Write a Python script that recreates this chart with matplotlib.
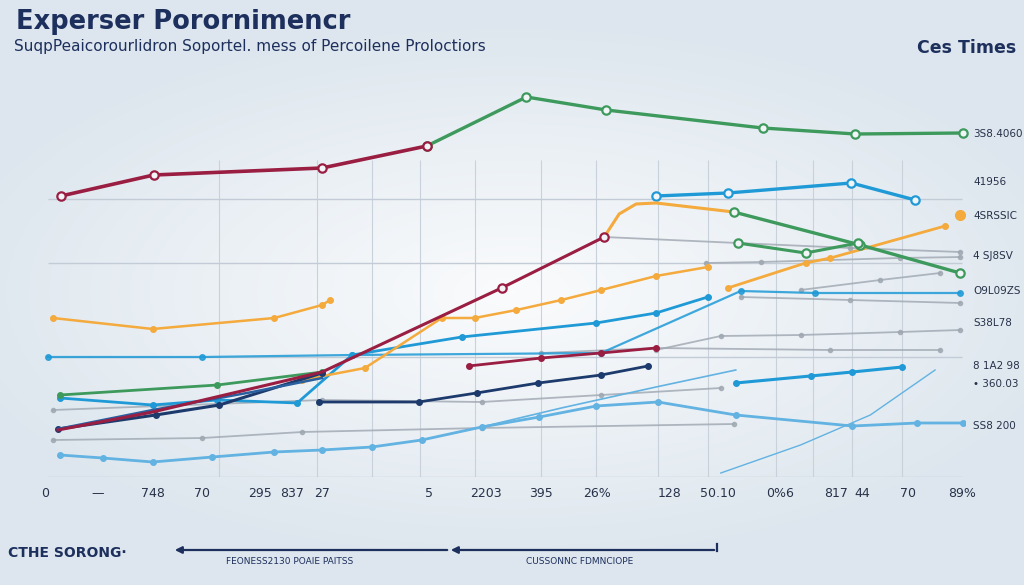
import numpy as np
import matplotlib.pyplot as plt

# series: x position, y position (axis runs top-down)
crimson_top_x = [58, 151, 320, 425]
crimson_top_y = [196, 175, 168, 146]
green_top_x = [425, 525, 605, 762, 855, 963]
green_top_y = [146, 97, 110, 128, 134, 133]

crimson_mid_x = [55, 150, 320, 500, 603]
crimson_mid_y = [430, 412, 372, 288, 237]
crimson_low_x = [467, 540, 600, 655]
crimson_low_y = [366, 358, 353, 348]

green_low_x = [57, 215, 320]
green_low_y = [395, 385, 372]
green_right_x = [733, 860, 960]
green_right_y = [212, 245, 273]
green_short_x = [737, 805, 858]
green_short_y = [243, 253, 243]

orange_a_x = [50, 150, 272, 320, 328]
orange_a_y = [318, 329, 318, 305, 300]
orange_b_x = [300, 363, 440, 473, 515, 560, 600, 655, 707]
orange_b_y = [380, 368, 318, 318, 310, 300, 290, 276, 267]
orange_c_x = [603, 618, 635, 655, 733]
orange_c_y = [237, 214, 204, 203, 212]
orange_d_x = [727, 805, 830, 945]
orange_d_y = [288, 263, 258, 226]

blue_top_x = [655, 727, 851, 915]
blue_top_y = [196, 193, 183, 200]
blue_mid_x = [57, 150, 215, 295, 350, 460, 595, 655, 707]
blue_mid_y = [398, 405, 400, 403, 355, 337, 323, 313, 297]
blue_flat_x = [45, 200, 350, 600, 740, 815, 960]
blue_flat_y = [357, 357, 355, 353, 291, 293, 293]
blue_right_x = [735, 810, 852, 902]
blue_right_y = [383, 376, 372, 367]

navy_a_x = [55, 153, 217, 320]
navy_a_y = [429, 415, 405, 373]
navy_b_x = [55, 150, 250, 320]
navy_b_y = [429, 410, 392, 378]
navy_c_x = [317, 417, 475, 537, 600, 647]
navy_c_y = [402, 402, 393, 383, 375, 366]

light_x = [57, 100, 150, 210, 272, 320, 370, 420, 480, 538, 595, 657, 735, 852, 917, 963]
light_y = [455, 458, 462, 457, 452, 450, 447, 440, 427, 417, 406, 402, 415, 426, 423, 423]
light_b_x = [480, 560, 655, 735]
light_b_y = [427, 408, 387, 370]
thin_x = [720, 800, 870, 935]
thin_y = [473, 445, 415, 370]

gray_lines = [
    ([603, 737, 850, 960], [237, 243, 248, 252]),
    ([705, 760, 900, 960], [263, 262, 258, 257]),
    ([740, 850, 960], [297, 300, 303]),
    ([50, 320, 480, 600, 720], [410, 400, 402, 395, 388]),
    ([50, 200, 300, 480, 733], [440, 438, 432, 428, 424]),
    ([655, 720, 800, 900, 960], [350, 336, 335, 332, 330]),
    ([540, 655, 830, 940], [353, 348, 350, 350]),
    ([800, 880, 940], [290, 280, 273]),
]

bottom_ticks = [42, 95, 150, 200, 258, 290, 320, 427, 484, 540, 596, 669, 717, 779, 836, 862, 908, 962]
bottom_labels = ['0', '—', '748', '70', '295', '837', '27', '5', '2203', '395', '26%',
                 '128', '50.10', '0%6', '817', '44', '70', '89%']
right_ticks = [133, 181, 215, 255, 290, 322, 365, 383, 425]
right_labels = ['3S8.4060', '41956', '4SRSSIC', '4 SJ8SV', 'O9L09ZS', 'S38L78',
                '8 1A2 98', '• 360.03', 'SS8 200']
vgrid = [217, 315, 370, 418, 473, 540, 595, 657, 707, 775, 813, 852, 902]
hgrid = [199, 263, 357, 477]

crimson = '#9a1d42'
green = '#3d9a5c'
orange = '#f4aa3c'
blue = '#1f9ad6'
navy = '#1d3a6c'
light = '#62b2e2'
gray = '#9ea6b0'
ink = '#1d2f5c'

fig = plt.figure(figsize=(10.24, 5.85), dpi=100)

# soft bluish background, lighter in the middle
bg = fig.add_axes([0, 0, 1, 1])
gx, gy = np.meshgrid(np.linspace(-1, 1, 300), np.linspace(-1, 1, 200))
r = np.clip(np.sqrt((gx * 0.9) ** 2 + (gy * 1.1) ** 2), 0, 1)
c0 = np.array([0.98, 0.985, 0.99])
c1 = np.array([0.87, 0.905, 0.935])
img = c0[None, None, :] * (1 - r[..., None]) + c1[None, None, :] * r[..., None]
bg.imshow(img, aspect='auto', extent=[0, 1, 0, 1])
bg.axis('off')

W, H = 1024, 585
x0, x1, y0, y1 = 45, 965, 90, 477
ax = fig.add_axes([x0 / W, 1 - y1 / H, (x1 - x0) / W, (y1 - y0) / H])
ax.patch.set_alpha(0)
ax.set_xlim(x0, x1)
ax.set_ylim(y1, y0)
for s in ax.spines.values():
    s.set_visible(False)

ax.vlines(vgrid, 160, 477, color='#c9d2db', lw=0.8, zorder=0)
ax.hlines(hgrid, 45, 962, color='#c3ccd6', lw=1.0, zorder=0)

ring = dict(marker='o', mfc='#f2f5f8', mew=1.6, ms=6)
dot = dict(marker='o', ms=4)

for gxs, gys in gray_lines:
    ax.plot(gxs, gys, color=gray, lw=1.3, alpha=0.8, marker='o', ms=3, zorder=1)

ax.plot(light_x, light_y, color=light, lw=2, zorder=2, **dot)
ax.plot(light_b_x, light_b_y, color=light, lw=1.2, zorder=2)
ax.plot(thin_x, thin_y, color=light, lw=1, zorder=2)
ax.plot(blue_flat_x, blue_flat_y, color=blue, lw=1.6, alpha=0.85, zorder=2, **dot)
ax.plot(blue_mid_x, blue_mid_y, color=blue, lw=2, zorder=3, **dot)
ax.plot(blue_right_x, blue_right_y, color=blue, lw=2.2, zorder=3, **dot)
ax.plot(blue_top_x, blue_top_y, color=blue, lw=2.4, zorder=3, **ring)

ax.plot(orange_a_x, orange_a_y, color=orange, lw=1.8, zorder=3, **dot)
ax.plot(orange_b_x, orange_b_y, color=orange, lw=1.8, zorder=3, **dot)
ax.plot(orange_c_x, orange_c_y, color=orange, lw=2.2, zorder=3)
ax.plot(orange_d_x, orange_d_y, color=orange, lw=2, zorder=3, **dot)
ax.plot([960], [215], color=orange, marker='o', ms=7, zorder=3)

ax.plot(green_low_x, green_low_y, color=green, lw=2, zorder=3, **dot)
ax.plot(green_right_x, green_right_y, color=green, lw=2.4, zorder=3, **ring)
ax.plot(green_short_x, green_short_y, color=green, lw=2.2, zorder=3, **ring)

ax.plot(navy_a_x, navy_a_y, color=navy, lw=2.2, zorder=4, **dot)
ax.plot(navy_b_x, navy_b_y, color='#2a5fa0', lw=1.8, zorder=4)
ax.plot(navy_c_x, navy_c_y, color=navy, lw=2, zorder=4, **dot)

ax.plot(crimson_low_x, crimson_low_y, color=crimson, lw=2, zorder=4, **dot)
ax.plot(crimson_mid_x, crimson_mid_y, color=crimson, lw=2.2, zorder=4)
ax.plot(crimson_mid_x[-2:], crimson_mid_y[-2:], color=crimson, lw=0, zorder=5, **ring)
ax.plot(green_top_x, green_top_y, color=green, lw=2.4, zorder=4, clip_on=False, **ring)
ax.plot(crimson_top_x, crimson_top_y, color=crimson, lw=2.6, zorder=5, **ring)

ax.set_xticks(bottom_ticks)
ax.set_xticklabels(bottom_labels, fontsize=9, color='#27324a')
ax.set_yticks(right_ticks)
ax.set_yticklabels(right_labels, fontsize=7.5, color='#27324a')
ax.yaxis.tick_right()
ax.tick_params(axis='x', length=0, pad=7)
ax.tick_params(axis='y', length=0, pad=6)

fig.text(16 / W, 1 - 22 / H, 'Experser Porornimencr', fontsize=18.5, fontweight='bold',
         color=ink, va='center', ha='left')
fig.text(14 / W, 1 - 47 / H, 'SuqpPeaicorourlidron Soportel. mess of Percoilene Proloctiors',
         fontsize=11, color=ink, va='center', ha='left')
fig.text(1016 / W, 1 - 48 / H, 'Ces Times', fontsize=12.5, fontweight='bold',
         color=ink, va='center', ha='right')

# bottom annotation strip
fig.text(8 / W, 1 - 553 / H, 'CTHE SORONG·', fontsize=10, fontweight='bold',
         color=ink, va='center', ha='left')
ax2 = fig.add_axes([0, 0, 1, 1])
ax2.set_xlim(0, W)
ax2.set_ylim(H, 0)
ax2.axis('off')
ax2.annotate('', xy=(172, 550), xytext=(450, 550),
             arrowprops=dict(arrowstyle='-|>', color=ink, lw=1.6))
ax2.annotate('', xy=(448, 550), xytext=(717, 550),
             arrowprops=dict(arrowstyle='-|>', color=ink, lw=1.6))
ax2.plot([717, 717], [544, 551], color=ink, lw=1.6)
ax2.text(290, 561, 'FEONESS2130 POAIE PAITSS', fontsize=6.5, color=ink,
         ha='center', va='center')
ax2.text(580, 561, 'CUSSONNC FDMNCIOPE', fontsize=6.5, color=ink,
         ha='center', va='center')

fig.savefig('out.png', dpi=100)
